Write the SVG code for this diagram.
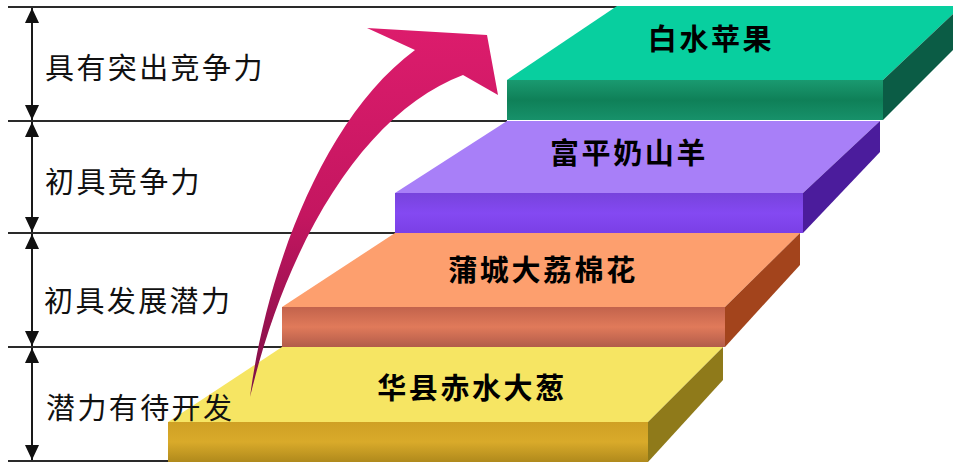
<svg xmlns="http://www.w3.org/2000/svg" width="953" height="465" viewBox="0 0 953 465">
<defs>
<style>
.hline{stroke:#2a2a2a;stroke-width:2;fill:none}
.dim{stroke:#1a1a1a;stroke-width:2;fill:none;marker-start:url(#ah);marker-end:url(#ah)}
.lbl{font-family:"Noto Sans CJK SC","Noto Sans CJK JP",sans-serif;font-size:29px;fill:#111;letter-spacing:2.4px}
.step{font-family:"Noto Sans CJK SC","Noto Sans CJK JP",sans-serif;font-size:29px;font-weight:bold;fill:#000;letter-spacing:2.6px;text-anchor:middle}
</style>
<marker id="ah" viewBox="0 0 15 14" refX="15" refY="7" markerWidth="15" markerHeight="14" markerUnits="userSpaceOnUse" orient="auto-start-reverse">
<path d="M0,0 L15,7 L0,14 Z" fill="#111"/>
</marker>
<linearGradient id="gFront" x1="0" y1="0" x2="0" y2="1"><stop offset="0" stop-color="#1a9a70"/><stop offset="0.5" stop-color="#0f8058"/><stop offset="1" stop-color="#17916a"/></linearGradient>
<linearGradient id="pFront" x1="0" y1="0" x2="0" y2="1"><stop offset="0" stop-color="#7743dc"/><stop offset="0.5" stop-color="#8449f2"/><stop offset="1" stop-color="#7a3fe6"/></linearGradient>
<linearGradient id="oFront" x1="0" y1="0" x2="0" y2="1"><stop offset="0" stop-color="#c2634c"/><stop offset="0.5" stop-color="#e07a5a"/><stop offset="1" stop-color="#b25c4a"/></linearGradient>
<linearGradient id="yFront" x1="0" y1="0" x2="0" y2="1"><stop offset="0" stop-color="#cfa024"/><stop offset="0.5" stop-color="#d9aa2a"/><stop offset="1" stop-color="#b08a1c"/></linearGradient>
<linearGradient id="arrowG" gradientUnits="userSpaceOnUse" x1="0" y1="30" x2="0" y2="400"><stop offset="0" stop-color="#dc1c6c"/><stop offset="0.5" stop-color="#c41660"/><stop offset="1" stop-color="#7a0f45"/></linearGradient>
</defs>
<rect width="953" height="465" fill="#ffffff"/>

<g id="levels">
<line class="hline" x1="8" y1="7" x2="618" y2="7"/>
<line class="hline" x1="8" y1="121" x2="507" y2="121"/>
<line class="hline" x1="8" y1="233" x2="395" y2="233"/>
<line class="hline" x1="8" y1="347" x2="282" y2="347"/>
<line class="hline" x1="8" y1="461" x2="168" y2="461"/>
</g>

<g id="connectors">
<line class="dim" x1="32" y1="8" x2="32" y2="120"/>
<line class="dim" x1="32" y1="122" x2="32" y2="232"/>
<line class="dim" x1="32" y1="234" x2="32" y2="346"/>
<line class="dim" x1="32" y1="348" x2="32" y2="460"/>
</g>

<g id="label-1"><text class="lbl" x="45" y="79">具有突出竞争力</text></g>
<g id="label-2"><text class="lbl" x="45" y="193">初具竞争力</text></g>
<g id="label-3"><text class="lbl" x="44" y="312">初具发展潜力</text></g>

<g id="step-green">
<polygon points="507,80 617,6 953,6 953,14 883,80" fill="#08cf9f"/>
<rect x="507" y="80" width="376" height="40" fill="url(#gFront)"/>
<polygon points="883,80 953,14 953,50 883,120" fill="#0b5c45"/>
<text class="step" x="711" y="50">白水苹果</text>
</g>

<g id="step-purple">
<polygon points="395,193 507,121 880,121 803,193" fill="#a87ff8"/>
<rect x="395" y="193" width="408" height="40" fill="url(#pFront)"/>
<polygon points="803,193 880,121 880,152 803,233" fill="#4b1c9c"/>
<text class="step" x="629" y="164">富平奶山羊</text>
</g>

<g id="step-orange">
<polygon points="282,307 395,233 800,233 725,307" fill="#fd9f6e"/>
<rect x="282" y="307" width="443" height="40" fill="url(#oFront)"/>
<polygon points="725,307 800,233 800,265 725,347" fill="#a3441c"/>
<text class="step" x="543" y="281">蒲城大荔棉花</text>
</g>

<g id="step-yellow">
<polygon points="168,422 282,347 723,347 648,422" fill="#f6e563"/>
<rect x="168" y="422" width="480" height="40" fill="url(#yFront)"/>
<polygon points="648,422 723,347 723,380 648,462" fill="#8f7a1a"/>
<text class="step" x="472" y="399">华县赤水大葱</text>
</g>

<g id="growth-arrow">
<path d="M250,397 C265,280 320,120 415,50 L367,28 L487,35 L498,95 L463,75 C370,110 290,230 250,397 Z" fill="url(#arrowG)"/>
</g>

<g id="label-4"><text class="lbl" x="46" y="419">潜力有待开发</text></g>
</svg>
